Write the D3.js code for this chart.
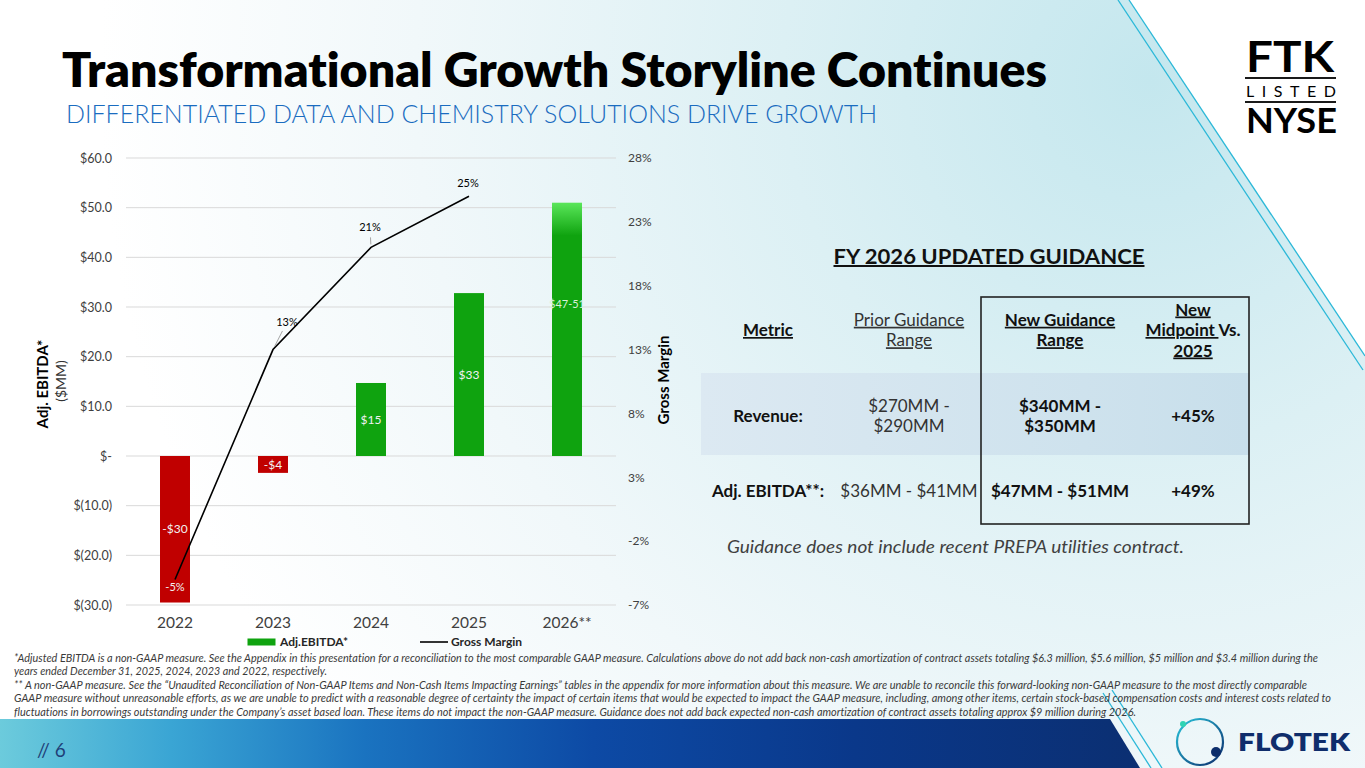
<!DOCTYPE html>
<html lang="en">
<head>
<meta charset="UTF-8" />
<title>Transformational Growth Storyline Continues</title>
<script src="https://d3js.org/d3.v7.min.js"></script>
<style>
  body { margin: 0; background: #fff; }
  svg { display: block; }
  text { font-family: Lato, "Open Sans", sans-serif; font-variant-ligatures: none; }
  .tick text { font-family: Lato, sans-serif; fill: #404040; }
</style>
</head>
<body>
<svg width="1365" height="768"></svg>
<script>
// chart data
const years = ["2022", "2023", "2024", "2025", "2026**"];
const adjEbitda = [-29.5, -3.4, 14.7, 32.8, 51];
const ebitdaLabels = ["-$30", "-$4", "$15", "$33", "$47-51"];
const marginYears = ["2022", "2023", "2024", "2025"];
const grossMargin = [-5, 13, 21, 25];
const leftTicks = [60, 50, 40, 30, 20, 10, 0, -10, -20, -30];
const rightTicks = [28, 23, 18, 13, 8, 3, -2, -7];

// guidance table
const tableHeader = [["Metric"], ["Prior Guidance", "Range"], ["New Guidance", "Range"], ["New", "Midpoint Vs.", "2025"]];
const revenueRow = [["Revenue:"], ["$270MM -", "$290MM"], ["$340MM -", "$350MM"], ["+45%"]];
const ebitdaRow = [["Adj. EBITDA**:"], ["$36MM - $41MM"], ["$47MM - $51MM"], ["+49%"]];

const footnotes = [
  "*Adjusted EBITDA is a non-GAAP measure. See the Appendix in this presentation for a reconciliation to the most comparable GAAP measure. Calculations above do not add back non-cash amortization of contract assets totaling $6.3 million, $5.6 million, $5 million and $3.4 million during the",
  "years ended December 31, 2025, 2024, 2023 and 2022, respectively.",
  "** A non-GAAP measure. See the \u201cUnaudited Reconciliation of Non-GAAP Items and Non-Cash Items Impacting Earnings\u201d tables in the appendix for more information about this measure. We are unable to reconcile this forward-looking non-GAAP measure to the most directly comparable",
  "GAAP measure without unreasonable efforts, as we are unable to predict with a reasonable degree of certainty the impact of certain items that would be expected to impact the GAAP measure, including, among other items, certain stock-based compensation costs and interest costs related to",
  "fluctuations in borrowings outstanding under the Company\u2019s asset based loan. These items do not impact the non-GAAP measure. Guidance does not add back expected non-cash amortization of contract assets totaling approx $9 million during 2026."
];

const svg = d3.select("svg");
const defs = svg.append("defs");

// ---------- background ----------
const bg = defs.append("radialGradient").attr("id", "bg")
  .attr("gradientUnits", "userSpaceOnUse")
  .attr("cx", 1150).attr("cy", 80).attr("r", 1050);
bg.append("stop").attr("offset", 0).attr("stop-color", "#c4e7ee");
bg.append("stop").attr("offset", 0.35).attr("stop-color", "#dcf0f4");
bg.append("stop").attr("offset", 0.7).attr("stop-color", "#f1f8fa");
bg.append("stop").attr("offset", 1).attr("stop-color", "#ffffff");
svg.append("rect").attr("width", 1365).attr("height", 768).attr("fill", "url(#bg)");

svg.append("polygon").attr("points", "1129,0 1365,0 1365,356").attr("fill", "#ffffff");
[[1118, 0, 1363, 370], [1129, 0, 1365, 356], [1103, 693, 1151, 768], [1112, 690, 1162, 768]].forEach((l) => {
  svg.append("line").attr("x1", l[0]).attr("y1", l[1]).attr("x2", l[2]).attr("y2", l[3])
    .attr("stroke", "#2bb8d8").attr("stroke-width", 1.3);
});

const band = defs.append("linearGradient").attr("id", "band");
[[0, "#6ccbdc"], [0.15, "#3aa5d4"], [0.32, "#1a73c0"], [0.52, "#0d4aa5"], [0.75, "#0a388a"], [1, "#0b2f72"]]
  .forEach((s) => band.append("stop").attr("offset", s[0]).attr("stop-color", s[1]));
svg.append("polygon").attr("points", "0,719 1110,719 1140,768 0,768").attr("fill", "url(#band)");
svg.append("text").attr("x", 37).attr("y", 757).attr("font-size", 19).attr("font-weight", 400)
  .attr("fill", "#1f3f78").text("// 6");

// ---------- titles ----------
svg.append("text").attr("x", 62).attr("y", 87).attr("font-size", 47).attr("font-weight", 800)
  .attr("fill", "#000").attr("textLength", 985).attr("lengthAdjust", "spacingAndGlyphs")
  .text("Transformational Growth Storyline Continues");
svg.append("text").attr("x", 66).attr("y", 123).attr("font-size", 26).attr("font-weight", 300)
  .attr("fill", "#1a6cc0").attr("textLength", 811).attr("lengthAdjust", "spacingAndGlyphs")
  .text("DIFFERENTIATED DATA AND CHEMISTRY SOLUTIONS DRIVE GROWTH");

// FTK / NYSE badge
svg.append("text").attr("x", 1246).attr("y", 72).attr("font-size", 42).attr("font-weight", 700)
  .attr("textLength", 88).attr("lengthAdjust", "spacingAndGlyphs").text("FTK");
svg.append("line").attr("x1", 1245).attr("x2", 1336).attr("y1", 78).attr("y2", 78).attr("stroke", "#1a1a1a").attr("stroke-width", 2);
svg.append("text").attr("x", 1246).attr("y", 97).attr("font-size", 16)
  .attr("textLength", 90).attr("lengthAdjust", "spacing").text("LISTED");
svg.append("line").attr("x1", 1245).attr("x2", 1336).attr("y1", 102).attr("y2", 102).attr("stroke", "#1a1a1a").attr("stroke-width", 2);
svg.append("text").attr("x", 1246).attr("y", 133).attr("font-size", 34).attr("font-weight", 700)
  .attr("textLength", 91).attr("lengthAdjust", "spacingAndGlyphs").text("NYSE");

// Flotek mark
const ring = defs.append("linearGradient").attr("id", "ring")
  .attr("x1", 0).attr("y1", 0).attr("x2", 1).attr("y2", 1);
ring.append("stop").attr("offset", 0).attr("stop-color", "#29c6dc");
ring.append("stop").attr("offset", 1).attr("stop-color", "#0b2a6b");
svg.append("circle").attr("cx", 1200).attr("cy", 742).attr("r", 23).attr("fill", "none")
  .attr("stroke", "url(#ring)").attr("stroke-width", 2.2);
svg.append("circle").attr("cx", 1183).attr("cy", 724).attr("r", 3).attr("fill", "#2fd3b4");
svg.append("circle").attr("cx", 1216).attr("cy", 752).attr("r", 5).attr("fill", "#0c2d6b");
svg.append("text").attr("x", 1238).attr("y", 751).attr("font-size", 25).attr("font-weight", 800)
  .attr("fill", "#0f2d6b").attr("textLength", 112).attr("lengthAdjust", "spacingAndGlyphs").text("FLOTEK");

// ---------- chart ----------
const x = d3.scaleBand().domain(years).range([126, 616]).paddingInner(0.694).paddingOuter(0.347);
const yL = d3.scaleLinear().domain([-30, 60]).range([605, 158]);
const yR = d3.scaleLinear().domain([-7, 28]).range([605, 158]);
const bw = x.bandwidth();

svg.append("g").selectAll("line").data(leftTicks).join("line")
  .attr("x1", 126).attr("x2", 616)
  .attr("y1", (d) => yL(d)).attr("y2", (d) => yL(d))
  .attr("stroke", "#d9d9d9").attr("stroke-width", 1);

const fmtL = (d) => (d === 0 ? "$-" : d < 0 ? `$(${(-d).toFixed(1)})` : `$${d.toFixed(1)}`);

const axL = svg.append("g").attr("transform", "translate(126,0)")
  .call(d3.axisLeft(yL).tickValues(leftTicks).tickFormat(fmtL).tickSize(0).tickPadding(14));
axL.select(".domain").remove();
axL.selectAll("text").attr("font-size", 12.5);

const axR = svg.append("g").attr("transform", "translate(616,0)")
  .call(d3.axisRight(yR).tickValues(rightTicks).tickFormat((d) => d + "%").tickSize(0).tickPadding(12));
axR.select(".domain").remove();
axR.selectAll("text").attr("font-size", 12);

const axB = svg.append("g").attr("transform", "translate(0,605)")
  .call(d3.axisBottom(x).tickSize(0).tickPadding(12));
axB.select(".domain").remove();
axB.selectAll("text").attr("font-size", 15.5).attr("fill", "#404040");

// axis titles
svg.append("text").attr("transform", "translate(44,384) rotate(-90)").attr("text-anchor", "middle")
  .attr("dominant-baseline", "middle").attr("font-size", 15).attr("font-weight", 700).text("Adj. EBITDA*");
svg.append("text").attr("transform", "translate(62,381) rotate(-90)").attr("text-anchor", "middle")
  .attr("dominant-baseline", "middle").attr("font-size", 14).attr("fill", "#333").text("($MM)");
svg.append("text").attr("transform", "translate(665,380) rotate(-90)").attr("text-anchor", "middle")
  .attr("dominant-baseline", "middle").attr("font-size", 15).attr("font-weight", 700).text("Gross Margin");

// bars
const rangeGrad = defs.append("linearGradient").attr("id", "rangeBar")
  .attr("x1", 0).attr("y1", 0).attr("x2", 0).attr("y2", 1);
rangeGrad.append("stop").attr("offset", 0).attr("stop-color", "#5ae65a");
rangeGrad.append("stop").attr("offset", 0.13).attr("stop-color", "#0fa30f");
rangeGrad.append("stop").attr("offset", 1).attr("stop-color", "#0fa30f");

const barData = years.map((y, i) => ({ year: y, v: adjEbitda[i], label: ebitdaLabels[i], last: i === years.length - 1 }));

svg.append("g").selectAll("rect").data(barData).join("rect")
  .attr("x", (d) => x(d.year))
  .attr("width", bw)
  .attr("y", (d) => yL(Math.max(0, d.v)))
  .attr("height", (d) => Math.abs(yL(d.v) - yL(0)))
  .attr("fill", (d) => (d.last ? "url(#rangeBar)" : d.v < 0 ? "#c00000" : "#0fa30f"));

svg.append("g").selectAll("text").data(barData).join("text")
  .attr("x", (d) => x(d.year) + bw / 2)
  .attr("y", (d) => (d.last ? yL(d.v * 0.6) : yL(d.v / 2)))
  .attr("dy", "0.35em")
  .attr("text-anchor", "middle")
  .attr("font-size", (d) => (d.last ? 11 : 12))
  .attr("fill", (d) => (d.last ? "#d8f0d8" : "#f2f2f2"))
  .text((d) => d.label);

// gross margin line
const lineData = marginYears.map((y, i) => ({ px: x(y) + bw / 2, py: yR(grossMargin[i]), v: grossMargin[i] }));
svg.append("path").datum(lineData)
  .attr("d", d3.line().x((d) => d.px).y((d) => d.py))
  .attr("fill", "none").attr("stroke", "#000").attr("stroke-width", 1.6);

// label offsets from each point (layout only)
const labelOffsets = [[0, 8], [14, -27.5], [-1, -20], [-1, -13]];
lineData.forEach((d, i) => {
  const [dx, dy] = labelOffsets[i];
  const len = Math.hypot(dx, dy);
  if (len > 18) {
    const ux = dx / len, uy = dy / len;
    svg.append("line")
      .attr("x1", d.px + ux * 3).attr("y1", d.py + uy * 3)
      .attr("x2", d.px + ux * (len - 10)).attr("y2", d.py + uy * (len - 10))
      .attr("stroke", "#a6a6a6").attr("stroke-width", 1);
  }
  svg.append("text")
    .attr("x", d.px + dx).attr("y", d.py + dy).attr("dy", "0.35em")
    .attr("text-anchor", "middle").attr("font-size", 11)
    .attr("fill", d.v < 0 ? "#f2f2f2" : "#000")
    .text(d.v + "%");
});

// legend
svg.append("rect").attr("x", 247.5).attr("y", 638.5).attr("width", 28).attr("height", 7).attr("fill", "#0fa30f");
svg.append("text").attr("x", 280).attr("y", 642).attr("dy", "0.35em").attr("font-size", 12)
  .attr("font-weight", 700).attr("fill", "#262626").text("Adj.EBITDA*");
svg.append("line").attr("x1", 420).attr("x2", 448).attr("y1", 642).attr("y2", 642).attr("stroke", "#000").attr("stroke-width", 1.6);
svg.append("text").attr("x", 451).attr("y", 642).attr("dy", "0.35em").attr("font-size", 12)
  .attr("font-weight", 700).attr("fill", "#262626").text("Gross Margin");

// ---------- guidance table ----------
svg.append("text").attr("x", 989).attr("y", 264).attr("text-anchor", "middle")
  .attr("font-size", 20).attr("font-weight", 700).attr("fill", "#111")
  .attr("textLength", 311).attr("lengthAdjust", "spacingAndGlyphs")
  .style("text-decoration", "underline").text("FY 2026 UPDATED GUIDANCE");

const revBand = defs.append("linearGradient").attr("id", "revBand");
revBand.append("stop").attr("offset", 0).attr("stop-color", "#dce9f2");
revBand.append("stop").attr("offset", 1).attr("stop-color", "#c8dfeb");
svg.append("rect").attr("x", 701).attr("y", 373).attr("width", 548).attr("height", 82).attr("fill", "url(#revBand)");
svg.append("rect").attr("x", 981).attr("y", 297).attr("width", 268).attr("height", 227)
  .attr("fill", "none").attr("stroke", "#222").attr("stroke-width", 1.6);

const colX = [768, 909, 1060, 1193];
const boldCol = [true, false, true, true];

function drawCell(lines, col, cy, header) {
  const n = lines.length;
  lines.forEach((ln, i) => {
    const t = svg.append("text")
      .attr("x", colX[col])
      .attr("y", cy + 6 + (i - (n - 1) / 2) * 20.5)
      .attr("text-anchor", "middle")
      .attr("font-size", 17)
      .attr("font-weight", boldCol[col] ? 700 : 400)
      .attr("fill", boldCol[col] ? "#111" : "#333")
      .style("white-space", "pre");
    if (header && ln === "Midpoint Vs.") {
      t.append("tspan").style("text-decoration", "underline").text("Midpoint ");
      t.append("tspan").text("Vs.");
    } else if (header) {
      t.style("text-decoration", "underline").text(ln);
    } else {
      t.text(ln);
    }
  });
}
tableHeader.forEach((c, i) => drawCell(c, i, 330, true));
revenueRow.forEach((c, i) => drawCell(c, i, 416, false));
ebitdaRow.forEach((c, i) => drawCell(c, i, 491, false));

svg.append("text").attr("x", 955.5).attr("y", 553).attr("text-anchor", "middle")
  .attr("font-size", 17).attr("font-style", "italic").attr("fill", "#404040")
  .attr("textLength", 457).attr("lengthAdjust", "spacingAndGlyphs")
  .text("Guidance does not include recent PREPA utilities contract.");

// ---------- footnotes ----------
const footWidths = [1304, 313, 1293, 1317, 1122];
svg.append("g").selectAll("text").data(footnotes).join("text")
  .attr("x", 14)
  .attr("y", (d, i) => 661.5 + i * 13.5)
  .attr("font-size", 10.5)
  .attr("font-style", "italic")
  .attr("fill", "#3a3a3a")
  .attr("textLength", (d, i) => footWidths[i])
  .attr("lengthAdjust", "spacingAndGlyphs")
  .text((d) => d);
</script>
</body>
</html>
